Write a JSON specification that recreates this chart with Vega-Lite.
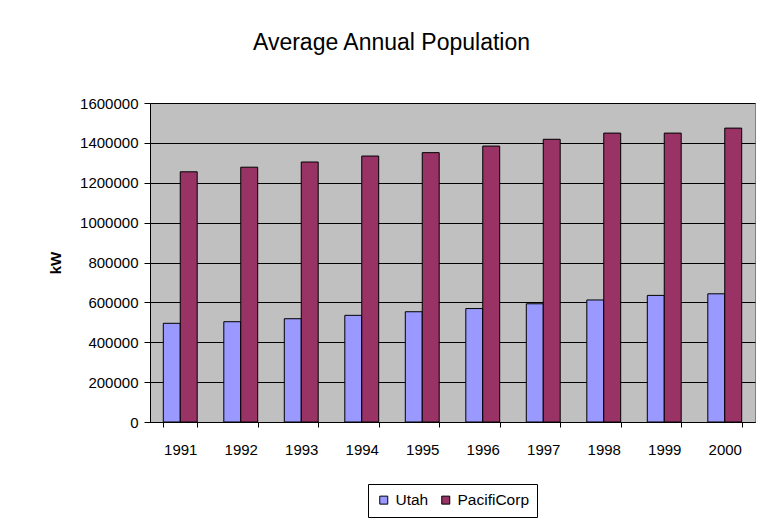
{
  "$schema": "https://vega.github.io/schema/vega-lite/v6.json",
  "autosize": "none",
  "width": 605,
  "height": 319,
  "padding": {"left": 150, "top": 103, "right": 14, "bottom": 98},
  "background": "white",
  "title": {
    "text": "Average Annual Population",
    "font": "Liberation Sans",
    "fontSize": 23,
    "fontWeight": "normal",
    "color": "black",
    "anchor": "middle",
    "dx": -61,
    "offset": 41
  },
  "data": {
    "values": [
      {"year": "1991", "series": "Utah", "kW": 495000},
      {"year": "1991", "series": "PacifiCorp", "kW": 1255000},
      {"year": "1992", "series": "Utah", "kW": 503000},
      {"year": "1992", "series": "PacifiCorp", "kW": 1278000},
      {"year": "1993", "series": "Utah", "kW": 518000},
      {"year": "1993", "series": "PacifiCorp", "kW": 1304000},
      {"year": "1994", "series": "Utah", "kW": 535000},
      {"year": "1994", "series": "PacifiCorp", "kW": 1334000},
      {"year": "1995", "series": "Utah", "kW": 553000},
      {"year": "1995", "series": "PacifiCorp", "kW": 1351000},
      {"year": "1996", "series": "Utah", "kW": 569000},
      {"year": "1996", "series": "PacifiCorp", "kW": 1384000},
      {"year": "1997", "series": "Utah", "kW": 593000},
      {"year": "1997", "series": "PacifiCorp", "kW": 1418000},
      {"year": "1998", "series": "Utah", "kW": 612000},
      {"year": "1998", "series": "PacifiCorp", "kW": 1449000},
      {"year": "1999", "series": "Utah", "kW": 635000},
      {"year": "1999", "series": "PacifiCorp", "kW": 1449000},
      {"year": "2000", "series": "Utah", "kW": 643000},
      {"year": "2000", "series": "PacifiCorp", "kW": 1474000}
    ]
  },
  "mark": {"type": "bar", "stroke": "black", "strokeWidth": 1},
  "encoding": {
    "x": {
      "field": "year",
      "type": "nominal",
      "scale": {"paddingInner": 0.44, "paddingOuter": 0.22},
      "axis": {
        "title": null,
        "labelAngle": 0,
        "tickBand": "extent",
        "tickSize": 5,
        "tickColor": "black",
        "domainColor": "black",
        "labelPadding": 15,
        "labelFont": "Liberation Sans",
        "labelFontSize": 15,
        "labelColor": "black"
      }
    },
    "xOffset": {
      "field": "series",
      "type": "nominal",
      "sort": ["Utah", "PacifiCorp"],
      "scale": {"paddingInner": 0, "paddingOuter": 0}
    },
    "y": {
      "field": "kW",
      "type": "quantitative",
      "scale": {"domain": [0, 1600000], "nice": false},
      "axis": {
        "title": "kW",
        "titleFont": "Liberation Sans",
        "titleFontSize": 15,
        "titleFontWeight": "bold",
        "titleColor": "black",
        "titlePadding": 16,
        "values": [0, 200000, 400000, 600000, 800000, 1000000, 1200000, 1400000, 1600000],
        "format": "d",
        "labelFont": "Liberation Sans",
        "labelFontSize": 15,
        "labelColor": "black",
        "labelPadding": 6,
        "tickSize": 6,
        "tickColor": "black",
        "domainColor": "black",
        "grid": true,
        "gridColor": "black",
        "gridOpacity": 1,
        "gridWidth": 1
      }
    },
    "color": {
      "field": "series",
      "type": "nominal",
      "sort": ["Utah", "PacifiCorp"],
      "scale": {"domain": ["Utah", "PacifiCorp"], "range": ["#9999FF", "#993366"]},
      "legend": {
        "title": null,
        "orient": "none",
        "legendX": 218,
        "legendY": 381,
        "direction": "horizontal",
        "strokeColor": "black",
        "padding": 8,
        "symbolType": "square",
        "symbolSize": 64,
        "symbolStrokeColor": "black",
        "symbolStrokeWidth": 1,
        "symbolOpacity": 1,
        "labelFont": "Liberation Sans",
        "labelFontSize": 15.5,
        "labelColor": "black",
        "columnPadding": 9,
        "labelOffset": 4
      }
    }
  },
  "config": {
    "view": {"fill": "#C0C0C0", "stroke": "#808080", "strokeWidth": 1}
  }
}
